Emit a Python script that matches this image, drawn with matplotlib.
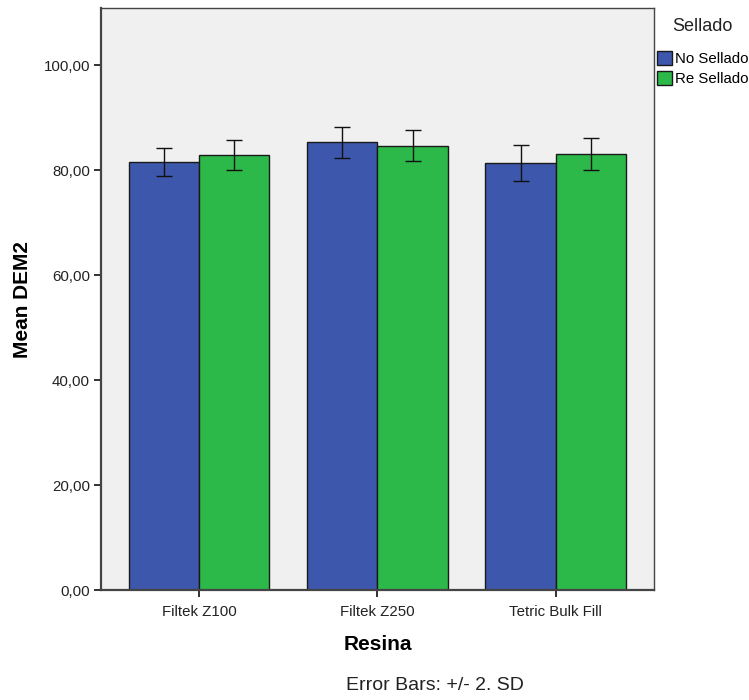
import numpy as np
import matplotlib
matplotlib.use('Agg')
import matplotlib.pyplot as plt
from matplotlib.ticker import FuncFormatter

plt.rcParams['font.family'] = ['Liberation Sans', 'DejaVu Sans']

# Datos
resinas = ['Filtek Z100', 'Filtek Z250', 'Tetric Bulk Fill']
grupos = ['No Sellado', 'Re Sellado']
media_no = [81.5, 85.3, 81.4]
media_re = [82.9, 84.7, 83.0]
err_no = [2.7, 3.0, 3.4]   # 2 SD
err_re = [2.8, 2.9, 3.05]
yticks = [0, 20, 40, 60, 80, 100]

colores = ['#3c57ab', '#2db84a']

fig = plt.figure(figsize=(7.49, 7.00), dpi=100)
ax = fig.add_axes([0.1349, 0.157, 0.873 - 0.1349, 0.9886 - 0.157])
ax.set_facecolor('#f0f0f0')

x = np.arange(len(resinas))
w = 0.395
handles = []
for i, (medias, errs) in enumerate([(media_no, err_no), (media_re, err_re)]):
    pos = x + (i - 0.5) * w
    b = ax.bar(pos, medias, width=w, color=colores[i], edgecolor='#1a1a1a',
               linewidth=1.0, label=grupos[i], zorder=2)
    handles.append(b)
    ax.errorbar(pos, medias, yerr=errs, fmt='none', ecolor='#111111',
                elinewidth=1.0, capsize=6, capthick=1.0, zorder=3)

ax.set_xlim(-0.549, 2.549)
ax.set_ylim(0, 110.9)
ax.set_yticks(yticks)
ax.yaxis.set_major_formatter(FuncFormatter(lambda v, p: f'{v:.2f}'.replace('.', ',')))
ax.set_xticks(x)
ax.set_xticklabels(resinas)
ax.tick_params(axis='both', labelsize=10.8, colors='#222222', length=5, width=1.3)
ax.tick_params(axis='x', pad=6)
ax.tick_params(axis='y', pad=3)
for s in ax.spines.values():
    s.set_color('#444444')
    s.set_linewidth(1.0)
ax.spines['left'].set_linewidth(1.6)
ax.spines['bottom'].set_linewidth(1.6)

ax.set_xlabel('Resina', fontsize=15, fontweight='bold', labelpad=11)
ax.set_ylabel('Mean DEM2', fontsize=15, fontweight='bold', labelpad=8.5)

# Leyenda
fig.text(0.898, 0.962, 'Sellado', ha='left', va='center', fontsize=13, color='#222222')
fig.legend(handles=handles, labels=grupos, loc='upper left',
           bbox_to_anchor=(0.877, 0.927), frameon=False, fontsize=10.8,
           handlelength=1.0, handleheight=1.0, handletextpad=0.22,
           labelspacing=0.36, borderpad=0, borderaxespad=0)

fig.text(0.581, 0.02, 'Error Bars: +/- 2. SD', ha='center', va='center',
         fontsize=14, color='#222222')

plt.savefig('out.png', dpi=100)
